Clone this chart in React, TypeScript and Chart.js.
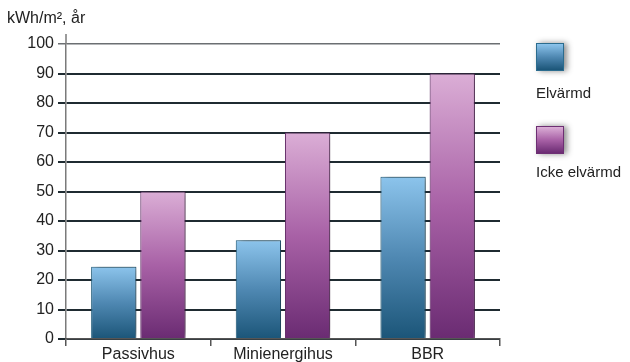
import React, { useEffect, useRef } from "react";
import { Chart, registerables } from "chart.js";

Chart.register(...registerables);

const categories = ["Passivhus", "Minienergihus", "BBR"];
const elvarmd = [24.5, 33.5, 55];
const ickeElvarmd = [50, 70, 90];
const yTicks = [0, 10, 20, 30, 40, 50, 60, 70, 80, 90, 100];
const unitLabel = "kWh/m², år";
const seriesNames = ["Elvärmd", "Icke elvärmd"];

const FONT = "'Liberation Sans', Arial, sans-serif";

function barGradient(ctx: any, light: string, mid: string, dark: string) {
  const chart = ctx.chart;
  const y = chart.scales?.y;
  if (!y || !chart.chartArea) return mid;
  const top = y.getPixelForValue(ctx.raw ?? 0);
  const bottom = y.getPixelForValue(0);
  if (!isFinite(top) || !isFinite(bottom) || top === bottom) return mid;
  const g = chart.ctx.createLinearGradient(0, top, 0, bottom);
  g.addColorStop(0, light);
  g.addColorStop(0.5, mid);
  g.addColorStop(1, dark);
  return g;
}

const shadowPlugin = {
  id: "barShadow",
  beforeDatasetsDraw(chart: any) {
    const c = chart.ctx;
    c.save();
    c.shadowColor = "rgba(0,0,0,0.55)";
    c.shadowBlur = 8;
    c.shadowOffsetX = 3;
    c.shadowOffsetY = -1;
  },
  afterDatasetsDraw(chart: any) {
    chart.ctx.restore();
  },
};

const axisTopPlugin = {
  id: "axisTop",
  afterDraw(chart: any) {
    const { ctx, chartArea } = chart;
    ctx.save();
    ctx.strokeStyle = "#7a7a7a";
    ctx.lineWidth = 1.5;
    ctx.beginPath();
    ctx.moveTo(chartArea.left, chartArea.top - 10);
    ctx.lineTo(chartArea.left, chartArea.top);
    ctx.stroke();
    ctx.restore();
  },
};

export default function App() {
  const ref = useRef<HTMLCanvasElement>(null);
  useEffect(() => {
    if (!ref.current) return;
    const chart = new Chart(ref.current, {
      type: "bar",
      data: {
        labels: categories,
        datasets: [
          {
            label: seriesNames[0],
            data: elvarmd,
            backgroundColor: (c: any) => barGradient(c, "#8cc4ec", "#4f88b2", "#1b5578"),
            borderColor: "#2b6c8e",
            borderWidth: 1,
            barPercentage: 0.92,
            categoryPercentage: 0.68,
          },
          {
            label: seriesNames[1],
            data: ickeElvarmd,
            backgroundColor: (c: any) => barGradient(c, "#dbaed6", "#a861a6", "#6a2b72"),
            borderColor: "#6d2f73",
            borderWidth: 1,
            barPercentage: 0.92,
            categoryPercentage: 0.68,
          },
        ],
      },
      options: {
        animation: false,
        responsive: false,
        maintainAspectRatio: false,
        layout: { padding: { left: 0, right: 130, top: 44, bottom: 0 } },
        plugins: { legend: { display: false }, tooltip: { enabled: false } },
        scales: {
          y: {
            min: 0,
            max: 100,
            afterFit: (s: any) => {
              s.width = 66;
            },
            afterBuildTicks: (s: any) => {
              s.ticks = yTicks.map((v) => ({ value: v }));
            },
            ticks: {
              color: "#222",
              font: { family: FONT, size: 16 },
              padding: 4,
            },
            grid: {
              color: (c: any) => (c.tick && c.tick.value === 100 ? "#6b6f72" : "#1f2b31"),
              lineWidth: (c: any) => (c.tick && c.tick.value === 100 ? 1.5 : 2),
              tickLength: 8,
            },
            border: { color: "#7a7a7a", width: 1.5 },
          },
          x: {
            afterFit: (s: any) => {
              s.height = 23;
            },
            ticks: {
              color: "#222",
              font: { family: FONT, size: 16 },
              padding: -1,
            },
            grid: {
              drawOnChartArea: false,
              color: "#555",
              lineWidth: 1.5,
              tickLength: 7,
              offset: true,
            },
            border: { color: "#555", width: 1.5 },
          },
        },
      },
      plugins: [shadowPlugin, axisTopPlugin],
    });
    return () => chart.destroy();
  }, []);

  const sq = (bg: string, border: string): React.CSSProperties => ({
    position: "absolute",
    left: 536,
    width: 26,
    height: 26,
    background: bg,
    border: `1px solid ${border}`,
    boxShadow: "3px 0px 6px rgba(0,0,0,0.45)",
  });
  const lbl: React.CSSProperties = {
    position: "absolute",
    left: 536,
    fontFamily: FONT,
    fontSize: 15,
    color: "#222",
    whiteSpace: "nowrap",
    lineHeight: "18px",
  };

  return (
    <div style={{ position: "fixed", left: 0, top: 0, width: 630, height: 362, background: "#fff" }}>
      <canvas ref={ref} width={630} height={362} style={{ position: "absolute", left: 0, top: 0 }} />
      <div style={{ ...lbl, left: 7, top: 9, fontSize: 16 }}>{unitLabel}</div>
      <div style={{ ...sq("linear-gradient(#8cc4ec, #4f88b2 50%, #1b5578)", "#2b6c8e"), top: 43 }} />
      <div style={{ ...lbl, top: 84 }}>{seriesNames[0]}</div>
      <div style={{ ...sq("linear-gradient(#dbaed6, #a861a6 50%, #6a2b72)", "#6d2f73"), top: 126 }} />
      <div style={{ ...lbl, top: 163 }}>{seriesNames[1]}</div>
    </div>
  );
}
